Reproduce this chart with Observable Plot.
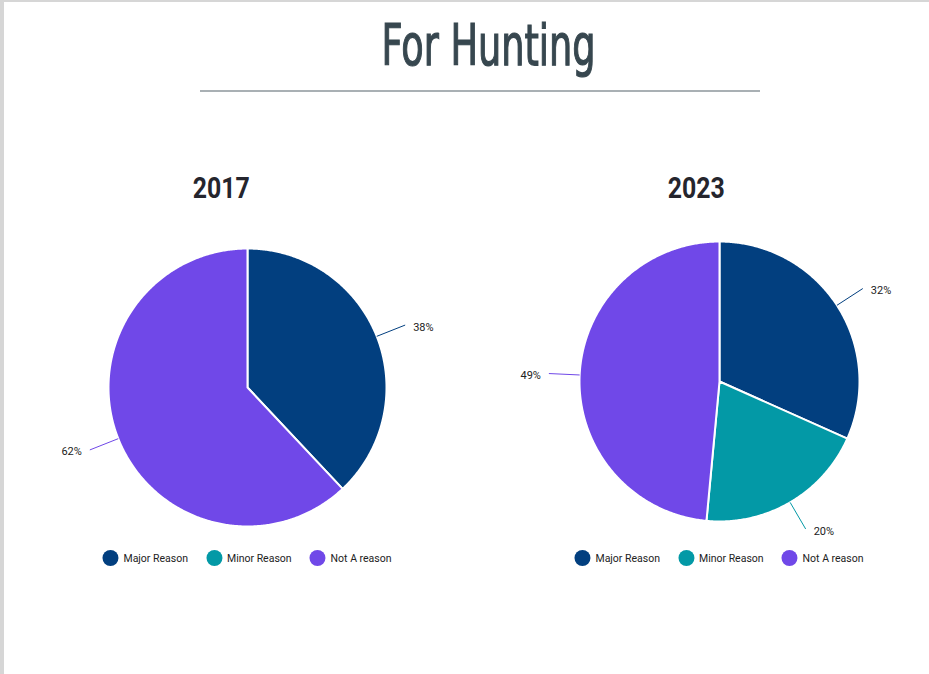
<!DOCTYPE html>
<html>
<head>
<meta charset="utf-8">
<script src="https://cdn.jsdelivr.net/npm/d3@7"></script>
<script src="https://cdn.jsdelivr.net/npm/@observablehq/plot@0.6"></script>
<style>
  html, body { margin: 0; padding: 0; background: #fff; }
  body { width: 929px; height: 674px; position: relative; overflow: hidden; font-family: Roboto, "Noto Sans", sans-serif; }
  #frame { position: absolute; left: 0; top: 0; width: 929px; height: 674px; box-sizing: border-box;
           border-left: 4px solid #d6d6d6; border-top: 2px solid #d6d6d6; pointer-events: none; }
  #title { position: absolute; left: 0; width: 978px; top: 16px; text-align: center;
           font-family: "DejaVu Sans Condensed", "DejaVu Sans", sans-serif; font-size: 57px;
           line-height: 58px; color: #37474f; -webkit-text-stroke: 1.2px #37474f; }
  #title span, .year span { display: inline-block; transform-origin: center; white-space: nowrap; }
  #rule { position: absolute; left: 200px; width: 560px; top: 89.5px; height: 2px; background: #a9b0b4; }
  .year { position: absolute; top: 174px; width: 200px; text-align: center;
          font-family: Roboto, sans-serif; font-weight: bold;
          font-size: 29px; line-height: 29px; color: #25252d; }
  .pie { position: absolute; top: 200px; }
  .legend { position: absolute; top: 550px; height: 16px; display: flex; align-items: center; transform: translateX(-50%);
            font-family: Roboto, sans-serif; font-size: 10.5px; color: #222; white-space: nowrap; }
  .legend .item { display: flex; align-items: center; margin-right: 18px; }
  .legend .item:last-child { margin-right: 0; }
  .legend .sw { width: 16px; height: 16px; border-radius: 50%; margin-right: 5px; }
</style>
</head>
<body>
<div id="title"><span>For Hunting</span></div>
<div id="rule"></div>
<div id="charts"></div>
<div id="frame"></div>
<script>
// ---- data ----
const categories = ["Major Reason", "Minor Reason", "Not A reason"];
const colors = ["#023f7f", "#0399a6", "#7048e8"];
const years = ["2017", "2023"];
const values2017 = [38, 0, 62];
const values2023 = [32, 20, 49];

// ---- layout (pixels) ----
const layouts = [
  { year: years[0], values: values2017, cx: 247, cy: 387, r: 139, titleX: 221 },
  { year: years[1], values: values2023, cx: 719, cy: 381, r: 140, titleX: 696 }
];
const W = 440, H = 380, TOP = 200;

function fitWidth(span, target) {
  const w = span.getBoundingClientRect().width;
  if (w > 0) span.style.transform = "scaleX(" + (target / w) + ")";
}

const charts = document.getElementById("charts");

for (const L of layouts) {
  const rows = categories.map((k, i) => ({ key: k, value: L.values[i] })).filter(d => d.value > 0);
  const arcs = d3.pie().sort(null).value(d => d.value).startAngle(0).endAngle(2 * Math.PI)(rows);

  const pts = [];
  for (const a of arcs) {
    const n = Math.max(2, Math.ceil((a.endAngle - a.startAngle) / (Math.PI / 360)));
    pts.push({ key: a.data.key, x: 0, y: 0 });
    for (let i = 0; i <= n; i++) {
      const t = a.startAngle + (a.endAngle - a.startAngle) * i / n;
      pts.push({ key: a.data.key, x: Math.sin(t), y: Math.cos(t) });
    }
    pts.push({ key: a.data.key, x: 0, y: 0 });
  }
  const labels = arcs.map(a => {
    const m = (a.startAngle + a.endAngle) / 2;
    return {
      key: a.data.key, label: a.data.value + "%",
      x1: Math.sin(m), y1: Math.cos(m),
      x2: Math.sin(m) * 1.22, y2: Math.cos(m) * 1.22,
      right: Math.sin(m) >= 0
    };
  });

  const cyRel = L.cy - TOP;
  const plot = Plot.plot({
    width: W, height: H, margin: 0,
    style: { background: "transparent", overflow: "visible", fontFamily: "Roboto, sans-serif" },
    x: { domain: [-1, 1], range: [W / 2 - L.r, W / 2 + L.r], axis: null },
    y: { domain: [-1, 1], range: [cyRel + L.r, cyRel - L.r], axis: null },
    color: { domain: categories, range: colors },
    marks: [
      Plot.line(pts, { x: "x", y: "y", z: "key", fill: "key", stroke: "#fff", strokeWidth: 2, strokeLinejoin: "round", curve: "linear" }),
      Plot.link(labels, { x1: "x1", y1: "y1", x2: "x2", y2: "y2", stroke: "key", strokeWidth: 1 }),
      Plot.text(labels.filter(d => d.right), { x: "x2", y: "y2", text: "label", textAnchor: "start", dx: 8, dy: 2, fontSize: 11, fill: "#222" }),
      Plot.text(labels.filter(d => !d.right), { x: "x2", y: "y2", text: "label", textAnchor: "end", dx: -8, dy: 2, fontSize: 11, fill: "#222" })
    ]
  });
  const wrap = document.createElement("div");
  wrap.className = "pie";
  wrap.style.left = (L.cx - W / 2) + "px";
  wrap.style.width = W + "px";
  wrap.appendChild(plot);
  charts.appendChild(wrap);

  const yt = document.createElement("div");
  yt.className = "year";
  yt.style.left = (L.titleX - 100) + "px";
  const ys = document.createElement("span");
  ys.textContent = L.year;
  yt.appendChild(ys);
  charts.appendChild(yt);
  fitWidth(ys, 57);

  const lg = document.createElement("div");
  lg.className = "legend";
  lg.style.left = L.cx + "px";
  categories.forEach((k, i) => {
    const it = document.createElement("div");
    it.className = "item";
    const sw = document.createElement("span");
    sw.className = "sw";
    sw.style.background = colors[i];
    const tx = document.createElement("span");
    tx.textContent = k;
    it.appendChild(sw); it.appendChild(tx);
    lg.appendChild(it);
  });
  charts.appendChild(lg);
}
fitWidth(document.querySelector("#title span"), 214);
</script>
</body>
</html>
